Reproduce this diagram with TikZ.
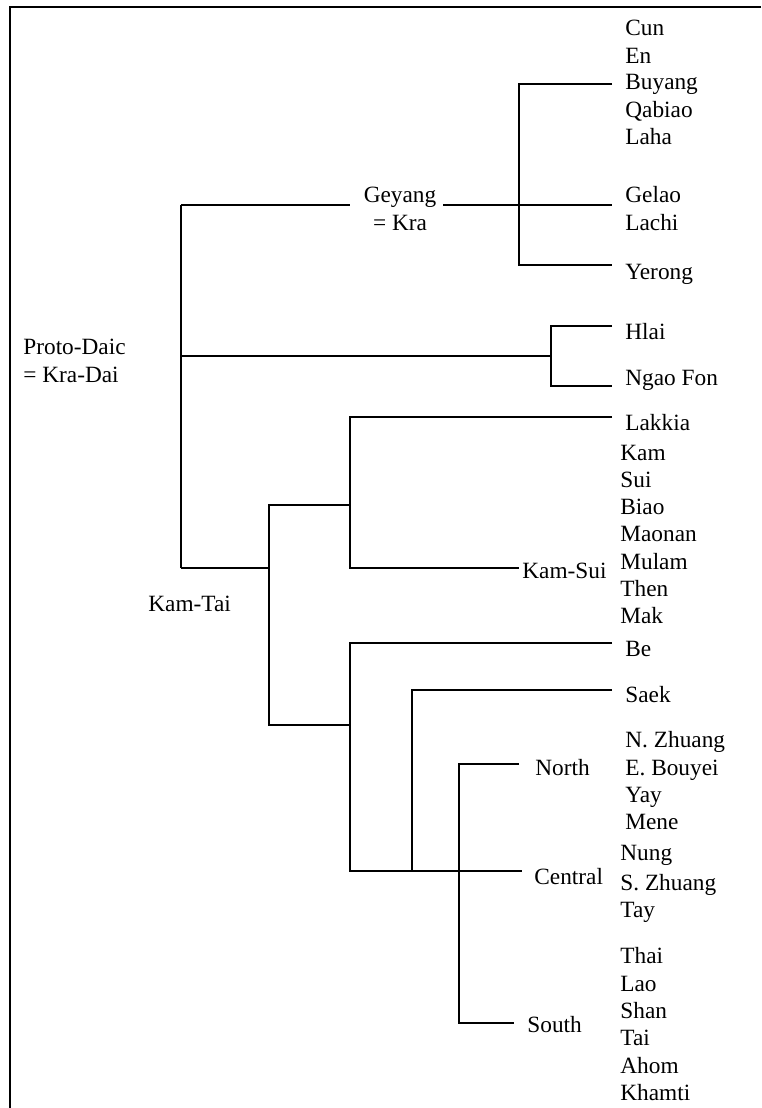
\documentclass[tikz,border=0pt]{standalone}
\usepackage{fontspec}
\setmainfont{Liberation Serif}

\begin{document}
\begin{tikzpicture}[
    x=0.5pt, y=-0.5pt,
    every node/.style={font=\fontsize{11.65pt}{14pt}\selectfont, inner sep=0pt},
    lang/.style={anchor=west, text height=7.63pt, text depth=0pt},
    group/.style={anchor=north, align=center},
    branch/.style={line width=0.6pt, draw=black},
    frame/.style={line width=1pt, draw=black},
]

\useasboundingbox (0,0) rectangle (761,1108);

% Frame, top and left side only
\draw[frame] (761,7) -| (9.5,1108);

% Root
\node[group, anchor=north west, align=left] (protodaic) at (23,338.2) {Proto-Daic\\= Kra-Dai};

% Kra branch
\node[group] (geyang) at (400,186.7) {Geyang\\= Kra};
\node[lang] (cun) at (625,28) {Cun};
\node[lang] (en) at (625,55.5) {En};
\node[lang] (buyang) at (625,81.7) {Buyang};
\node[lang] (qabiao) at (625,109.5) {Qabiao};
\node[lang] (laha) at (625,137) {Laha};
\node[lang] (gelao) at (625,195) {Gelao};
\node[lang] (lachi) at (625,223) {Lachi};
\node[lang] (yerong) at (625,271.5) {Yerong};

% Hlai branch
\node[lang] (hlai) at (625,331.5) {Hlai};
\node[lang] (ngaofon) at (625,378) {Ngao Fon};

% Kam-Tai branch
\node[lang] (kamtai) at (148,603.5) {Kam-Tai};
\node[lang] (lakkia) at (625,423) {Lakkia};
\node[lang] (kamsui) at (522,570.5) {Kam-Sui};
\node[lang] (kam) at (620,453) {Kam};
\node[lang] (sui) at (620,480) {Sui};
\node[lang] (biao) at (620,507) {Biao};
\node[lang] (maonan) at (620,534) {Maonan};
\node[lang] (mulam) at (620,561.5) {Mulam};
\node[lang] (then) at (620,589) {Then};
\node[lang] (mak) at (620,616) {Mak};

% Tai
\node[lang] (be) at (625,649) {Be};
\node[lang] (saek) at (625,695) {Saek};
\node[lang] (north) at (535,768) {North};
\node[lang] (nzhuang) at (625,740) {N. Zhuang};
\node[lang] (ebouyei) at (625,767.5) {E. Bouyei};
\node[lang] (yay) at (625,794.5) {Yay};
\node[lang] (mene) at (625,821.5) {Mene};
\node[lang] (central) at (534,877) {Central};
\node[lang] (nung) at (620,853) {Nung};
\node[lang] (szhuang) at (620,882.5) {S. Zhuang};
\node[lang] (tay) at (620,909.5) {Tay};
\node[lang] (south) at (527,1025) {South};
\node[lang] (thai) at (620,956) {Thai};
\node[lang] (lao) at (620,983.5) {Lao};
\node[lang] (shan) at (620,1011) {Shan};
\node[lang] (tai) at (620,1038) {Tai};
\node[lang] (ahom) at (620,1066) {Ahom};
\node[lang] (khamti) at (620,1093) {Khamti};

% Junctions
\coordinate (pd1) at (181,205);
\coordinate (pd2) at (181,356);
\coordinate (pd3) at (181,568);
\coordinate (kra) at (519,205);
\coordinate (hl) at (551,356);
\coordinate (kt) at (269,568);
\coordinate (ks) at (350,505);
\coordinate (tw) at (350,725);
\coordinate (sk) at (412,871);
\coordinate (nc) at (459,871);

% Line ends
\coordinate (g-in) at (350,205);
\coordinate (g-out) at (443,205);
\coordinate (e-buyang) at (612,84);
\coordinate (e-gelao) at (612,205);
\coordinate (e-yerong) at (612,265);
\coordinate (e-hlai) at (612,326);
\coordinate (e-ngaofon) at (612,386);
\coordinate (e-lakkia) at (612,417);
\coordinate (e-kamsui) at (519,568);
\coordinate (e-be) at (612,643);
\coordinate (e-saek) at (612,690);
\coordinate (e-north) at (519,764);
\coordinate (e-central) at (522,871);
\coordinate (e-south) at (514,1023);

% Tree
\draw[branch] (pd1) -- (pd3);
\draw[branch] (pd1) -- (g-in);
\draw[branch] (g-out) -- (e-gelao);
\draw[branch] (e-buyang) -| (kra) |- (e-yerong);
\draw[branch] (pd2) -- (hl);
\draw[branch] (e-hlai) -| (hl) |- (e-ngaofon);
\draw[branch] (pd3) -- (kt);
\draw[branch] (ks) -| (kt) |- (tw);
\draw[branch] (e-lakkia) -| (ks) |- (e-kamsui);
\draw[branch] (e-be) -| (tw) |- (e-central);
\draw[branch] (e-saek) -| (sk);
\draw[branch] (e-north) -| (nc) |- (e-south);

\end{tikzpicture}
\end{document}
